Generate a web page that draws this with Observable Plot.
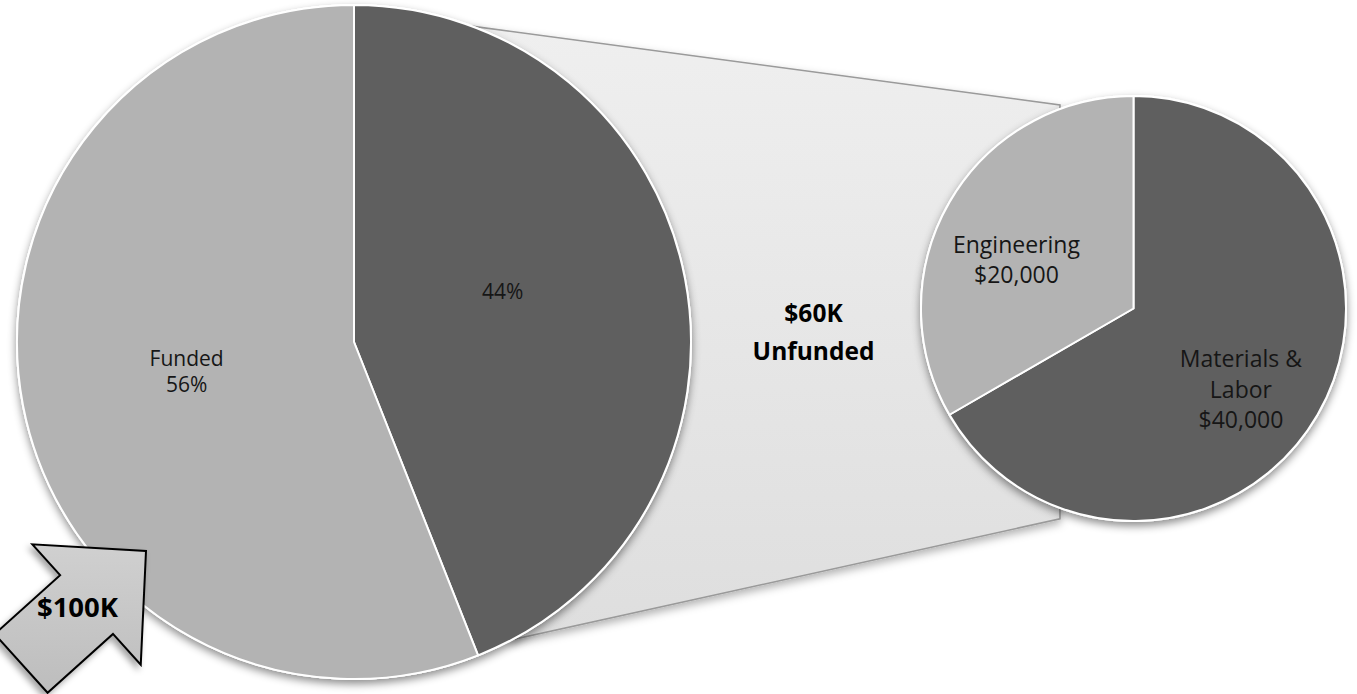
<!DOCTYPE html>
<html>
<head>
<meta charset="utf-8">
<script src="https://cdn.jsdelivr.net/npm/d3@7"></script>
<script src="https://cdn.jsdelivr.net/npm/@observablehq/plot@0.6"></script>
<style>
  html, body { margin: 0; padding: 0; background: #fff; overflow: hidden; }
  #chart svg { display: block; }
</style>
</head>
<body>
<div id="chart"></div>
<script>
// ---------------- data ----------------
const fundingCategories = ["Unfunded", "Funded"];
const fundingShares = [44, 56];
const fundingLabels = ["44%", "Funded\n56%"];

const unfundedCategories = ["Materials & Labor", "Engineering"];
const unfundedAmounts = [40000, 20000];
const unfundedLabels = ["Materials &\nLabor\n$40,000", "Engineering\n$20,000"];

const totalLabel = "$100K";
const unfundedTitle = "$60K\nUnfunded";

// ---------------- layout ----------------
const W = 1357, H = 694;
const bigPie = {cx: 354, cy: 342, r: 337};
const smallPie = {cx: 1133.5, cy: 308.5, r: 212.5};
const sliceColors = ["#5f5f5f", "#b3b3b3"];
const bigLabelShift = [-8.6, 1.3], bigLabelRadius = [0.466, 0.505];
const smallLabelShift = [6.4, -6.6], smallLabelRadius = [0.625, 0.603];
// connector: angles on big pie (deg, clockwise from top), x on small pie side
const connector = {aTop: 20.4, aBottom: 152.1, xFrac: -0.346, topFrac: -0.958, bottomFrac: 0.99};
// arrow
const arrow = {tipX: 146, tipY: 551, angle: -42, headLength: 80, headWidth: 162, shaftWidth: 79, length: 168};
const FONT = "'Open Sans', 'DejaVu Sans', sans-serif";

const rad = Math.PI / 180;
function polar(p, angleDeg, frac) {
  return [p.cx + p.r * frac * Math.sin(angleDeg * rad), p.cy - p.r * frac * Math.cos(angleDeg * rad)];
}

function pieArcs(values) {
  return d3.pie().sort(null).value(d => d)(values);
}

function labelData(p, values, labels, shifts, radii) {
  return pieArcs(values).map((a, i) => {
    const mid = (a.startAngle + a.endAngle) / 2 / rad;
    const [x, y] = polar(p, mid + shifts[i], radii[i]);
    return {x, y, text: labels[i]};
  });
}

function shadowFilter(defs, id, dx, dy, sd, op) {
  defs.append("filter").attr("id", id)
    .attr("x", "-30%").attr("y", "-30%").attr("width", "160%").attr("height", "160%")
    .append("feDropShadow").attr("dx", dx).attr("dy", dy).attr("stdDeviation", sd)
    .attr("flood-color", "#000").attr("flood-opacity", op);
}

function connectorMark(index, scales) {
  const X = scales.x, Y = scales.y;
  const [x1, y1] = polar(bigPie, connector.aTop, 1);
  const [x4, y4] = polar(bigPie, connector.aBottom, 1);
  const xr = smallPie.cx + connector.xFrac * smallPie.r;
  const yt = smallPie.cy + connector.topFrac * smallPie.r;
  const yb = smallPie.cy + connector.bottomFrac * smallPie.r;
  const g = d3.create("svg:g");
  const defs = g.append("defs");
  const grad = defs.append("linearGradient").attr("id", "conn-grad").attr("x1", 0).attr("y1", 0).attr("x2", 0).attr("y2", 1);
  grad.append("stop").attr("offset", "0%").attr("stop-color", "#efefef");
  grad.append("stop").attr("offset", "100%").attr("stop-color", "#dedede");
  shadowFilter(defs, "conn-shadow", 0, 4, 4, 0.3);
  const pts = [[X(x1), Y(y1)], [X(xr), Y(yt)], [X(xr), Y(yb)], [X(x4), Y(y4)], [X(bigPie.cx), Y(bigPie.cy)]];
  g.append("path").attr("d", "M" + pts.join("L") + "Z")
    .attr("fill", "url(#conn-grad)").attr("stroke", "#9a9a9a").attr("stroke-width", 1.6)
    .attr("stroke-linejoin", "miter").attr("filter", "url(#conn-shadow)");
  return g.node();
}

function pieMark(p, values, id) {
  return (index, scales) => {
    const cx = scales.x(p.cx), cy = scales.y(p.cy);
    const r = scales.x(p.cx + p.r) - cx;
    const g = d3.create("svg:g").attr("transform", `translate(${cx},${cy})`);
    const defs = g.append("defs");
    shadowFilter(defs, id + "-shadow", 0, 4, 4, 0.45);
    g.append("circle").attr("r", r + 1).attr("fill", "#fff").attr("filter", `url(#${id}-shadow)`);
    g.selectAll("path.slice").data(pieArcs(values)).join("path").attr("class", "slice")
      .attr("d", d3.arc().innerRadius(0).outerRadius(r))
      .attr("fill", (d, i) => sliceColors[i])
      .attr("stroke", "#fff").attr("stroke-width", 2).attr("stroke-linejoin", "round");
    return g.node();
  };
}

function arrowMark(index, scales) {
  const X = scales.x, Y = scales.y;
  const u = [Math.cos(arrow.angle * rad), Math.sin(arrow.angle * rad)];
  const n = [-u[1], u[0]];
  const T = [arrow.tipX, arrow.tipY];
  const B = [T[0] - arrow.headLength * u[0], T[1] - arrow.headLength * u[1]];
  const E = [T[0] - arrow.length * u[0], T[1] - arrow.length * u[1]];
  const off = (P, k) => [P[0] + k * n[0], P[1] + k * n[1]];
  const hw = arrow.headWidth / 2, sw = arrow.shaftWidth / 2;
  const pts = [T, off(B, hw), off(B, sw), off(E, sw), off(E, -sw), off(B, -sw), off(B, -hw)]
    .map(([x, y]) => [X(x), Y(y)]);
  const g = d3.create("svg:g");
  const defs = g.append("defs");
  const grad = defs.append("linearGradient").attr("id", "arrow-grad").attr("x1", 0).attr("y1", 0).attr("x2", 0).attr("y2", 1);
  grad.append("stop").attr("offset", "0%").attr("stop-color", "#d0d0d0");
  grad.append("stop").attr("offset", "100%").attr("stop-color", "#bdbdbd");
  shadowFilter(defs, "arrow-shadow", -3, 4, 3, 0.35);
  g.append("path").attr("d", "M" + pts.join("L") + "Z")
    .attr("fill", "url(#arrow-grad)").attr("stroke", "#000").attr("stroke-width", 2)
    .attr("stroke-linejoin", "miter").attr("filter", "url(#arrow-shadow)");
  return g.node();
}

const bigLabels = labelData(bigPie, fundingShares, fundingLabels, bigLabelShift, bigLabelRadius);
const smallLabels = labelData(smallPie, unfundedAmounts, unfundedLabels, smallLabelShift, smallLabelRadius);
const titleData = [{x: 813, y: 328, text: unfundedTitle}];
const totalData = [{x: 77, y: 608, text: totalLabel}];

const plot = Plot.plot({
  width: W,
  height: H,
  margin: 0,
  x: {domain: [0, W], range: [0, W], axis: null},
  y: {domain: [0, H], range: [0, H], axis: null},
  style: {background: "#fff", fontFamily: FONT},
  marks: [
    connectorMark,
    pieMark(bigPie, fundingShares, "big"),
    pieMark(smallPie, unfundedAmounts, "small"),
    Plot.text(bigLabels, {x: "x", y: "y", text: "text", fontSize: 21, lineHeight: 1.24, fill: "#161616", fontFamily: FONT}),
    Plot.text(smallLabels, {x: "x", y: "y", text: "text", fontSize: 23, lineHeight: 1.33, fill: "#161616", fontFamily: FONT}),
    Plot.text(titleData, {x: "x", y: "y", text: "text", fontSize: 24.5, lineHeight: 1.55, fontWeight: "bold", fill: "#000", fontFamily: FONT}),
    arrowMark,
    Plot.text(totalData, {x: "x", y: "y", text: "text", fontSize: 27.5, fontWeight: "bold", fill: "#000", fontFamily: FONT})
  ]
});
document.getElementById("chart").appendChild(plot);
</script>
</body>
</html>
